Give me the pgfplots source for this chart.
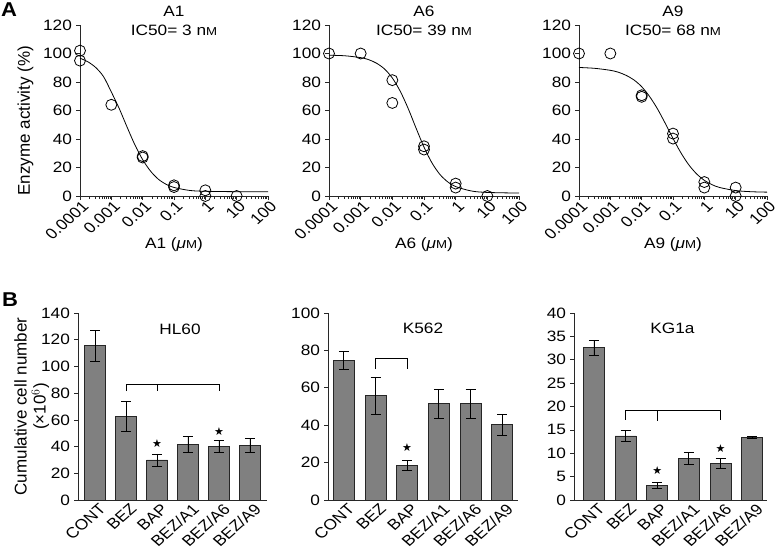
\documentclass[border=0pt]{standalone}
\usepackage{fontspec}
\setmainfont{Liberation Sans}
\newfontfamily\dejavu{DejaVu Sans}
\usepackage{pgfplots}
\pgfplotsset{compat=1.18}
\pgfkeys{/pgf/number format/assume math mode=true}
\newcommand{\fs}{\fontsize{15}{17}\selectfont}
\newcommand{\fl}{\fontsize{17}{19}\selectfont}
\newcommand{\smM}{{\fontsize{11.5}{10}\selectfont M}}
\newcommand{\st}{\dejavu\fontsize{11}{11}\selectfont}
\definecolor{bargray}{RGB}{128,128,128}
\definecolor{axcol}{RGB}{40,40,40}
\tikzset{txt/.style={font=\fs, xscale=1.15}}
\pgfplotsset{
  mybasestyle/.style={
    scale only axis, axis lines=left,
    axis line style={-, line width=0.8pt, axcol},
    tick style={line width=0.7pt, axcol}, tick align=outside,
    major tick length=4pt, minor tick length=2.5pt,
    tick label style={font=\fs, xscale=1.15},
    xlabel style={font=\fs, xscale=1.15},
    ylabel style={font=\fl},
    clip=false,
  },
  mytopstyle/.style={mybasestyle, height=171pt, xmin=1e-4, xmax=100,
    ymin=0, ymax=120, ytick={0,20,...,120},
    xtick={1e-4,1e-3,1e-2,1e-1,1,10,100},
    xticklabels={0.0001,0.001,0.01,0.1,1,10,100},
    xticklabel style={rotate=45, anchor=north east, inner sep=1pt, xshift=1.5pt},
    xlabel style={at={(axis description cs:0.5,0)}, anchor=center, yshift=-49pt},
  },
  mybarstyle/.style={mybasestyle, height=187pt, ymin=0, ybar, bar width=21pt,
    xtick={0,...,5}, xticklabels={CONT,BEZ,BAP,BEZ/A1,BEZ/A6,BEZ/A9},
    xticklabel style={rotate=45, anchor=north east, inner sep=1pt, xshift=4pt},
    major x tick style={draw=none},
  },
  mypts/.style={only marks, mark=o, mark size=5.5pt, mark options={line width=0.8pt, draw=black}},
  mycrv/.style={smooth, no marks, line width=0.8pt, black},
  mybars/.style={fill=bargray, draw=black!85, line width=0.8pt,
    error bars/.cd, y dir=both, y explicit,
    error bar style={line width=0.8pt, black},
    error mark options={line width=0.8pt, black, mark size=5pt, rotate=90}},
}
\begin{document}
\begin{tikzpicture}
\useasboundingbox (0,0) rectangle (778pt,558pt);
\node[font=\bfseries\fontsize{20}{20}\selectfont, xscale=1.1] at (9pt,548pt) {A};
\node[font=\bfseries\fontsize{20}{20}\selectfont, xscale=1.1] at (10pt,258pt) {B};

% ---------- A1 ----------
\begin{semilogxaxis}[mytopstyle, width=188pt, at={(80pt,362pt)}, anchor=south west,
  xlabel={A1 (\textit{μ}\smM)},
  ylabel={Enzyme activity (\%)},
  ylabel style={at={(axis description cs:-0.29,0.44)}, anchor=center}]
\addplot[mycrv] coordinates {(1e-4,96.7)(1.778e-4,94.2)(3.162e-4,90.2)(5.623e-4,83.8)(1e-3,73)(1.778e-3,61.5)(3.162e-3,48.5)(5.623e-3,36)(1e-2,25.5)(1.778e-2,17.5)(3.162e-2,11.8)(5.623e-2,8.2)(0.1,6)(0.3162,3.9)(1,3.3)(10,3.03)(100,3.0)};
\addplot[mypts] coordinates {(1e-4,102)(1e-4,95)(1e-3,64)(1e-2,28)(1e-2,27)(0.1,7.5)(0.1,6.3)(1,4)(1,0)(10,0)};
\node[txt] at (axis description cs:0.5,1.082) {A1};
\node[txt] at (axis description cs:0.5,0.971) {IC50= 3 n\smM};
\end{semilogxaxis}

% ---------- A6 ----------
\begin{semilogxaxis}[mytopstyle, width=190pt, at={(329pt,362pt)}, anchor=south west,
  xlabel={A6 (\textit{μ}\smM)}]
\addplot[mycrv] coordinates {(1e-4,98.8)(3.162e-4,98.4)(1e-3,97.1)(1.778e-3,95.7)(3.162e-3,93.2)(5.623e-3,89.2)(1e-2,82.8)(1.778e-2,73.5)(3.162e-2,61.4)(5.623e-2,47.6)(0.1,34.3)(0.1778,23.3)(0.3162,15.2)(0.5623,9.9)(1,6.6)(3.162,3.5)(10,2.5)(100,2.05)};
\addplot[mypts] coordinates {(1e-4,100)(1e-3,100)(1e-2,81.3)(1e-2,65.3)(0.1,34.9)(0.1,32.6)(1,8.7)(1,5.9)(10,0)};
\node[txt] at (axis description cs:0.5,1.082) {A6};
\node[txt] at (axis description cs:0.5,0.971) {IC50= 39 n\smM};
\end{semilogxaxis}

% ---------- A9 ----------
\begin{semilogxaxis}[mytopstyle, width=188pt, at={(579pt,362pt)}, anchor=south west,
  xlabel={A9 (\textit{μ}\smM)}]
\addplot[mycrv] coordinates {(1e-4,90.2)(3.162e-4,89.6)(1e-3,88.2)(1.778e-3,86.9)(3.162e-3,84.7)(5.623e-3,81.5)(1e-2,76.7)(1.778e-2,69.9)(3.162e-2,61.3)(5.623e-2,51.1)(0.1,40.4)(0.1778,30.4)(0.3162,22.0)(0.5623,15.6)(1,11.0)(1.778,7.9)(3.162,5.9)(10,3.8)(31.62,3.0)(100,2.7)};
\addplot[mypts] coordinates {(1e-4,100)(1e-3,100)(1e-2,70.7)(1e-2,69.6)(0.1,43.8)(0.1,40.3)(1,9.8)(1,5.9)(10,5.9)(10,0)};
\node[txt] at (axis description cs:0.5,1.082) {A9};
\node[txt] at (axis description cs:0.5,0.971) {IC50= 68 n\smM};
\end{semilogxaxis}

% ---------- HL60 ----------
\begin{axis}[mybarstyle, width=189pt, at={(78pt,58pt)}, anchor=south west,
  xmin=-0.55, xmax=5.55, ymax=140, ytick={0,20,...,140},
  ylabel={Cumulative cell number\\(×10$^{6}$)},
  ylabel style={align=center, at={(axis description cs:-0.245,0.5)}, anchor=center}]
\addplot[mybars] coordinates {(0,115.5) +- (0,11.5) (1,62.5) +- (0,11.2) (2,30) +- (0,4.5) (3,41.5) +- (0,6) (4,40) +- (0,4.5) (5,40.8) +- (0,5.1)};
\draw[line width=0.8pt, black] (axis cs:1,81.5) -- (axis cs:1,86.8) -- (axis cs:4,86.8) -- (axis cs:4,81.5);
\draw[line width=0.8pt, black] (axis cs:2,86.8) -- (axis cs:2,81.5);
\node[font=\st] at (axis cs:2,42) {★};
\node[font=\st] at (axis cs:4,51.5) {★};
\node[txt] at (axis description cs:0.54,0.914) {HL60};
\end{axis}

% ---------- K562 ----------
\begin{axis}[mybarstyle, width=190pt, at={(328pt,58pt)}, anchor=south west,
  xmin=-0.5, xmax=5.5, ymax=100, ytick={0,20,...,100}]
\addplot[mybars] coordinates {(0,74.5) +- (0,4.8) (1,55.7) +- (0,10.1) (2,18.6) +- (0,2.5) (3,51.4) +- (0,7.9) (4,51.4) +- (0,7.9) (5,40.2) +- (0,5.4)};
\draw[line width=0.8pt, black] (axis cs:1,70) -- (axis cs:1,75.5) -- (axis cs:2,75.5) -- (axis cs:2,70);
\node[font=\st] at (axis cs:2,28) {★};
\node[txt] at (axis description cs:0.5,0.92) {K562};
\end{axis}

% ---------- KG1a ----------
\begin{axis}[mybarstyle, width=193pt, at={(574pt,58pt)}, anchor=south west,
  xmin=-0.63, xmax=5.47, ymax=40, ytick={0,5,...,40}]
\addplot[mybars] coordinates {(0,32.6) +- (0,1.6) (1,13.7) +- (0,1.15) (2,3.1) +- (0,0.6) (3,8.9) +- (0,1.3) (4,7.9) +- (0,1.05) (5,13.4) +- (0,0.12)};
\draw[line width=0.8pt, black] (axis cs:1,17.2) -- (axis cs:1,19.2) -- (axis cs:4,19.2) -- (axis cs:4,17.2);
\draw[line width=0.8pt, black] (axis cs:2,19.2) -- (axis cs:2,17);
\node[font=\st] at (axis cs:2,6.2) {★};
\node[font=\st] at (axis cs:4,11) {★};
\node[txt] at (axis description cs:0.51,0.92) {KG1a};
\end{axis}
\end{tikzpicture}
\end{document}
